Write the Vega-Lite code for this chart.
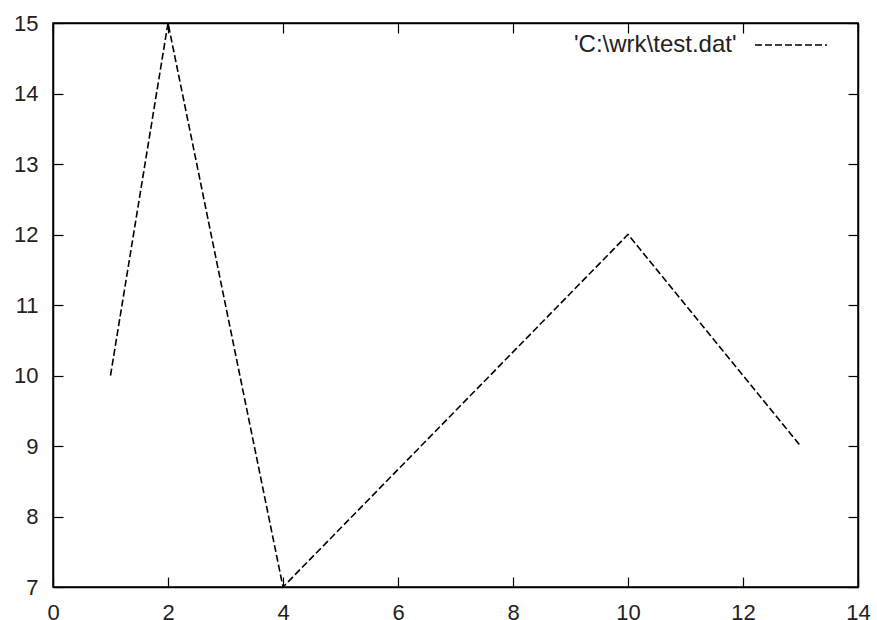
{
  "$schema": "https://vega.github.io/schema/vega-lite/v6.json",
  "width": 805,
  "height": 564,
  "autosize": {"type": "none"},
  "padding": {"left": 53, "top": 23, "right": 19, "bottom": 33},
  "background": "white",
  "data": {
    "values": [
      {"x": 1, "y": 10, "series": "'C:\\wrk\\test.dat'"},
      {"x": 2, "y": 15, "series": "'C:\\wrk\\test.dat'"},
      {"x": 4, "y": 7, "series": "'C:\\wrk\\test.dat'"},
      {"x": 10, "y": 12, "series": "'C:\\wrk\\test.dat'"},
      {"x": 13, "y": 9, "series": "'C:\\wrk\\test.dat'"}
    ]
  },
  "config": {
    "font": "Liberation Sans",
    "view": {"stroke": "black", "strokeWidth": 1.5},
    "axis": {
      "grid": false,
      "domainColor": "black",
      "domainWidth": 1.5,
      "tickColor": "black",
      "tickWidth": 1.2,
      "tickSize": -10,
      "labelFontSize": 22,
      "labelColor": "#222",
      "labelFont": "Liberation Sans",
      "title": null
    }
  },
  "layer": [
    {
      "mark": {"type": "line", "strokeDash": [7, 3], "strokeWidth": 1.6},
      "encoding": {
        "x": {
          "field": "x",
          "type": "quantitative",
          "scale": {"domain": [0, 14], "nice": false, "zero": false},
          "axis": {"orient": "bottom", "values": [0, 2, 4, 6, 8, 10, 12, 14], "labelPadding": 25, "labelFlush": false, "labelOverlap": false}
        },
        "y": {
          "field": "y",
          "type": "quantitative",
          "scale": {"domain": [7, 15], "nice": false, "zero": false},
          "axis": {"orient": "left", "values": [7, 8, 9, 10, 11, 12, 13, 14, 15], "labelPadding": 25, "labelFlush": false, "labelOverlap": false}
        },
        "color": {
          "field": "series",
          "type": "nominal",
          "scale": {"range": ["black"]},
          "legend": {
            "orient": "none",
            "legendX": 521,
            "legendY": -15,
            "padding": 0,
            "title": "'C:\\wrk\\test.dat'",
            "titleOrient": "left",
            "titleAnchor": "middle",
            "titleFontSize": 24,
            "titleFontWeight": "normal",
            "titleColor": "#222",
            "titleFont": "Liberation Sans",
            "titleBaseline": "line-top",
            "titleLineHeight": 32,
            "titlePadding": 17,
            "labelExpr": "''",
            "labelOffset": 0,
            "symbolType": "stroke",
            "symbolSize": 5184,
            "symbolStrokeWidth": 1.6,
            "symbolDash": [7, 3],
            "symbolStrokeColor": "black"
          }
        }
      }
    },
    {
      "mark": {"type": "point", "opacity": 0},
      "encoding": {
        "x": {
          "field": "x",
          "type": "quantitative",
          "axis": {"orient": "top", "values": [0, 2, 4, 6, 8, 10, 12, 14], "labels": false}
        },
        "y": {
          "field": "y",
          "type": "quantitative",
          "axis": {"orient": "right", "values": [7, 8, 9, 10, 11, 12, 13, 14, 15], "labels": false}
        }
      }
    }
  ],
  "resolve": {"axis": {"x": "independent", "y": "independent"}}
}
